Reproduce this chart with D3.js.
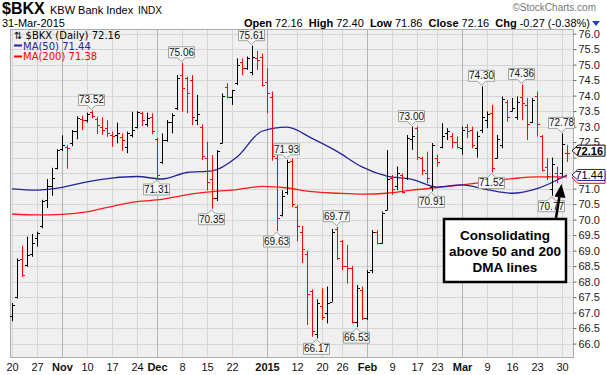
<!DOCTYPE html>
<html>
<head>
<meta charset="utf-8">
<script src="https://cdn.jsdelivr.net/npm/d3@7/dist/d3.min.js"></script>
<style>
  body { margin: 0; background: #fff; }
  svg { display: block; }
</style>
</head>
<body>
<script>
// zilele de tranzactionare (Oct 20, 2014 - Mar 31, 2015)
const dates = [
  "2014-10-20","2014-10-21","2014-10-22","2014-10-23","2014-10-24","2014-10-27","2014-10-28","2014-10-29","2014-10-30","2014-10-31",
  "2014-11-03","2014-11-04","2014-11-05","2014-11-06","2014-11-07","2014-11-10","2014-11-11","2014-11-12","2014-11-13","2014-11-14",
  "2014-11-17","2014-11-18","2014-11-19","2014-11-20","2014-11-21","2014-11-24","2014-11-25","2014-11-26","2014-11-28",
  "2014-12-01","2014-12-02","2014-12-03","2014-12-04","2014-12-05","2014-12-08","2014-12-09","2014-12-10","2014-12-11","2014-12-12",
  "2014-12-15","2014-12-16","2014-12-17","2014-12-18","2014-12-19","2014-12-22","2014-12-23","2014-12-24","2014-12-26",
  "2014-12-29","2014-12-30","2014-12-31",
  "2015-01-02","2015-01-05","2015-01-06","2015-01-07","2015-01-08","2015-01-09","2015-01-12","2015-01-13","2015-01-14","2015-01-15",
  "2015-01-16","2015-01-20","2015-01-21","2015-01-22","2015-01-23","2015-01-26","2015-01-27","2015-01-28","2015-01-29","2015-01-30",
  "2015-02-02","2015-02-03","2015-02-04","2015-02-05","2015-02-06","2015-02-09","2015-02-10","2015-02-11","2015-02-12","2015-02-13",
  "2015-02-17","2015-02-18","2015-02-19","2015-02-20","2015-02-23","2015-02-24","2015-02-25","2015-02-26","2015-02-27",
  "2015-03-02","2015-03-03","2015-03-04","2015-03-05","2015-03-06","2015-03-09","2015-03-10","2015-03-11","2015-03-12","2015-03-13",
  "2015-03-16","2015-03-17","2015-03-18","2015-03-19","2015-03-20","2015-03-23","2015-03-24","2015-03-25","2015-03-26","2015-03-27",
  "2015-03-30","2015-03-31"
];

const opens = [
  66.9, 67.5, 68.73, 68.53, 68.9, 69.4, 69.78, 70.64, 71.08, 71.67,
  72.29, 72.34, 72.48, 72.86, 73.24, 73.22, 73.46, 73.23, 73.0, 72.94,
  72.73, 72.73, 72.67, 72.35, 72.72, 73.0, 73.44, 73.1, 73.3, 72.6,
  71.87, 72.57, 73.16, 73.59, 74.66, 74.56, 74.5, 73.2, 73.0, 72.0,
  71.3, 70.7, 72.48, 74.29, 73.96, 74.4, 75.07, 74.88, 74.77, 75.2,
  75.26, 74.45, 73.95, 72.0, 70.15, 70.9, 71.9, 70.4, 69.6, 68.9,
  67.7, 66.3, 67.2, 66.98, 67.35, 69.7, 69.3, 68.5, 68.43, 66.7,
  67.73, 66.82, 68.37, 69.6, 69.25, 70.31, 71.33, 71.1, 71.44, 71.33,
  72.6, 72.94, 71.98, 71.5, 71.05, 72.0, 72.35, 72.8, 72.7, 72.5,
  72.3, 73.0, 72.9, 72.3, 72.9, 73.2, 73.45, 71.98, 72.4, 73.8,
  73.5, 73.3, 73.95, 73.7, 73.15, 74.0, 72.7, 71.7, 71.0, 71.5,
  71.5, 72.16
];
const highs = [
  67.31, 68.75, 69.16, 69.45, 69.54, 69.61, 70.64, 71.31, 71.67, 72.27,
  72.72, 72.4, 72.89, 73.33, 73.35, 73.45, 73.52, 73.32, 73.3, 73.21,
  72.84, 73.13, 72.78, 72.84, 73.48, 73.5, 73.48, 73.45, 73.43, 72.64,
  72.78, 73.21, 73.43, 74.66, 75.06, 74.61, 74.66, 74.02, 73.07, 72.51,
  72.08, 72.24, 74.07, 74.4, 74.18, 75.2, 75.2, 75.26, 75.61, 75.44,
  75.36, 74.88, 74.13, 72.08, 70.95, 71.93, 71.97, 70.47, 69.8, 69.0,
  67.75, 67.43, 67.78, 67.84, 69.7, 69.77, 69.34, 69.18, 68.5, 67.89,
  67.84, 68.37, 69.66, 69.66, 70.26, 72.24, 71.44, 71.71, 71.49, 72.73,
  73.0, 73.0, 72.03, 72.19, 72.47, 72.09, 73.11, 72.95, 72.79, 72.68,
  73.0, 73.08, 73.0, 72.84, 74.3, 73.49, 73.7, 72.73, 73.97, 73.86,
  73.92, 73.97, 74.36, 73.92, 73.92, 74.13, 72.73, 71.98, 72.0, 71.7,
  72.78, 72.4
];
const lows = [
  66.72, 67.45, 68.15, 68.48, 68.8, 69.13, 69.72, 70.37, 70.77, 71.62,
  72.21, 71.64, 72.37, 72.59, 72.89, 73.13, 73.26, 72.76, 72.73, 72.67,
  72.35, 72.46, 72.22, 72.14, 72.65, 72.94, 73.02, 73.0, 72.75, 71.31,
  71.8, 72.51, 72.78, 73.53, 73.48, 73.43, 73.05, 73.05, 71.92, 70.95,
  70.35, 70.6, 72.46, 73.91, 73.7, 74.34, 74.66, 74.83, 74.66, 74.83,
  74.29, 73.43, 71.9, 69.63, 70.1, 70.8, 70.4, 69.3, 68.6, 66.6,
  66.22, 66.17, 66.76, 66.65, 67.35, 68.7, 68.37, 67.94, 66.65, 66.53,
  66.76, 66.76, 68.27, 69.2, 69.23, 70.31, 70.8, 70.95, 70.85, 71.28,
  72.25, 71.92, 71.44, 71.17, 70.91, 71.71, 72.3, 72.57, 72.3, 72.3,
  72.09, 72.63, 72.3, 72.0, 72.79, 72.95, 71.52, 71.98, 72.3, 73.16,
  73.49, 73.22, 73.2, 72.57, 73.11, 72.68, 71.55, 71.28, 70.77, 71.17,
  71.4, 71.86
];
const closes = [
  67.23, 68.7, 68.21, 68.86, 69.24, 69.58, 70.59, 71.08, 71.35, 72.24,
  72.4, 72.3, 72.86, 73.29, 73.22, 73.4, 73.33, 73.05, 72.9, 72.78,
  72.7, 72.8, 72.58, 72.78, 72.9, 73.48, 73.22, 73.27, 72.85, 71.45,
  72.57, 73.16, 73.37, 74.58, 74.23, 74.1, 73.3, 73.4, 72.05, 71.2,
  70.7, 72.2, 74.0, 73.95, 74.18, 74.99, 74.88, 75.2, 75.26, 75.15,
  74.34, 74.07, 72.05, 70.05, 70.75, 71.85, 70.5, 69.8, 69.05, 67.6,
  66.4, 67.3, 66.87, 67.3, 69.6, 68.75, 68.5, 68.45, 66.7, 67.78,
  66.82, 68.32, 69.61, 69.25, 70.2, 71.3, 71.0, 71.49, 70.9, 72.62,
  72.7, 72.03, 71.6, 71.35, 72.4, 71.85, 72.7, 72.85, 72.5, 72.35,
  72.9, 72.85, 72.4, 72.7, 73.3, 73.4, 71.65, 72.6, 73.9, 73.3,
  73.6, 73.8, 73.75, 73.1, 73.85, 73.1, 71.6, 71.4, 71.8, 71.35,
  72.43, 72.16
];

// mediile mobile (index zi -> valoare)
const maIdx = [0, 5, 10, 15, 20, 25, 30, 35, 40, 45, 50, 55, 60, 65, 70, 75, 80, 85, 90, 95, 100, 105, 111];
const ma50 = [70.99, 70.95, 71.04, 71.22, 71.34, 71.39, 71.31, 71.52, 71.57, 72.02, 72.85, 72.98,
  72.62, 72.2, 71.7, 71.4, 71.3, 71.05, 71.12, 70.97, 70.85, 71.0, 71.44];
const ma200 = [70.18, 70.15, 70.17, 70.25, 70.43, 70.58, 70.65, 70.8, 70.9, 70.97, 71.07, 71.02,
  70.9, 70.85, 70.82, 70.85, 70.95, 71.03, 71.12, 71.22, 71.32, 71.38, 71.38];

// etichetele axei X
const tickDates = ["2014-10-20","2014-10-27","2014-11-03","2014-11-10","2014-11-17","2014-11-24","2014-12-01",
  "2014-12-08","2014-12-15","2014-12-22","2015-01-02","2015-01-12","2015-01-20","2015-01-26","2015-02-02",
  "2015-02-09","2015-02-17","2015-02-23","2015-03-02","2015-03-09","2015-03-16","2015-03-23","2015-03-30"];
const tickLabels = ["20","27","Nov","10","17","24","Dec","8","15","22","2015","12","20","26","Feb",
  "9","17","23","Mar","9","16","23","30"];
const monthTicks = ["Nov","Dec","2015","Feb","Mar"];

// etichetele de maxim / minim
const calloutIdx = [16, 29, 34, 40, 48, 53, 55, 61, 65, 69, 80, 84, 94, 96, 102, 108, 110];
const calloutVal = [73.52, 71.31, 75.06, 70.35, 75.61, 69.63, 71.93, 66.17, 69.77, 66.53, 73.00, 70.91, 74.30, 71.52, 74.36, 70.77, 72.78];
const calloutSide = ["hi","lo","hi","lo","hi","lo","hi","lo","hi","lo","hi","lo","hi","lo","hi","lo","hi"];

const W = 607, H = 375;
const plotLeft = 10, plotRight = 573, plotTop = 29, plotBottom = 357;
const font = "'Liberation Sans', Arial, sans-serif";

const svg = d3.select("body")
  .append("svg")
  .attr("width", W)
  .attr("height", H)
  .style("font-family", font);

const x = d3.scalePoint().domain(dates).range([12, 567]);
const y = d3.scaleLinear().domain([66, 76]).range([343.6, 33.6]);

// fundalul zonei de grafic
svg.append("rect")
  .attr("x", plotLeft + 0.5).attr("y", plotTop + 0.5)
  .attr("width", plotRight - plotLeft).attr("height", plotBottom - plotTop)
  .attr("fill", "#f0f0f0")
  .attr("stroke", "#a8aeb0");

// grila orizontala
const yTicks = d3.range(66, 76.01, 0.5);
svg.append("g").selectAll("line").data(yTicks).join("line")
  .attr("x1", plotLeft + 1).attr("x2", plotRight)
  .attr("y1", d => Math.round(y(d)) + 0.5).attr("y2", d => Math.round(y(d)) + 0.5)
  .attr("stroke", "#d6d6d6");

// grila verticala
svg.append("g").selectAll("line").data(tickDates).join("line")
  .attr("x1", d => x(d) + 0.5).attr("x2", d => x(d) + 0.5)
  .attr("y1", plotTop + 1).attr("y2", plotBottom)
  .attr("stroke", (d, i) => monthTicks.includes(tickLabels[i]) ? "#b4b4b4" : "#d6d6d6");

// axa Y din dreapta
const yAxis = svg.append("g")
  .attr("transform", `translate(${plotRight + 0.5},0)`)
  .call(d3.axisRight(y).tickValues(yTicks).tickFormat(d3.format(".1f")).tickSize(3).tickPadding(2));
yAxis.select(".domain").remove();
yAxis.selectAll("line").attr("stroke", "#666");
yAxis.selectAll("text").attr("font-family", font).attr("font-size", 11).attr("fill", "#222");

// axa X
const xAxis = svg.append("g")
  .attr("transform", `translate(0,${plotBottom})`)
  .call(d3.axisBottom(x).tickValues(tickDates).tickFormat((d, i) => tickLabels[i]).tickSize(0).tickPadding(6));
xAxis.select(".domain").remove();
xAxis.selectAll("text")
  .attr("font-family", font)
  .attr("font-size", 11)
  .attr("fill", "#111")
  .attr("font-weight", d => monthTicks.includes(tickLabels[tickDates.indexOf(d)]) ? "bold" : "normal");

// mediile mobile
const maLine = vals => d3.line()
  .x((d, i) => x(dates[maIdx[i]]))
  .y(d => y(d))
  .curve(d3.curveMonotoneX)(vals);

svg.append("path").attr("d", maLine(ma200))
  .attr("fill", "none").attr("stroke", "#ff1a1a").attr("stroke-width", 1.3);
svg.append("path").attr("d", maLine(ma50))
  .attr("fill", "none").attr("stroke", "#24249a").attr("stroke-width", 1.3);

// barele OHLC
const bars = svg.append("g");
dates.forEach((d, i) => {
  const cx = x(d) + 0.5;
  const col = (i > 0 && closes[i] < closes[i - 1]) ? "#ff0000" : "#000000";
  bars.append("line")
    .attr("x1", cx).attr("x2", cx)
    .attr("y1", y(highs[i])).attr("y2", y(lows[i]))
    .attr("stroke", col);
  bars.append("line")
    .attr("x1", cx - 2.5).attr("x2", cx)
    .attr("y1", Math.round(y(opens[i])) + 0.5).attr("y2", Math.round(y(opens[i])) + 0.5)
    .attr("stroke", col);
  bars.append("line")
    .attr("x1", cx).attr("x2", cx + 2.5)
    .attr("y1", Math.round(y(closes[i])) + 0.5).attr("y2", Math.round(y(closes[i])) + 0.5)
    .attr("stroke", col);
});

// etichete maxim/minim
const callouts = svg.append("g");
calloutIdx.forEach((idx, k) => {
  const cx = x(dates[idx]) - 0.5;
  const hi = calloutSide[k] === "hi";
  const tip = hi ? y(calloutVal[k]) - 1 : y(calloutVal[k]) + 1;
  const bw = 26, bh = 11, p = 4;
  const by = hi ? tip - p - bh : tip + p;
  const x0 = cx - bw / 2, x1 = cx + bw / 2;
  let path;
  if (hi) {
    path = `M${x0},${by}H${x1}V${by + bh}H${cx + 4}L${cx},${tip}L${cx - 4},${by + bh}H${x0}Z`;
  } else {
    path = `M${x0},${by}H${cx - 4}L${cx},${tip}L${cx + 4},${by}H${x1}V${by + bh}H${x0}Z`;
  }
  callouts.append("path").attr("d", path)
    .attr("fill", "#f7f7f7").attr("stroke", "#9aa59a").attr("stroke-width", 1);
  callouts.append("text")
    .attr("x", cx).attr("y", by + bh - 2)
    .attr("text-anchor", "middle")
    .attr("font-size", 10)
    .attr("fill", "#111")
    .text(calloutVal[k].toFixed(2));
});

// casetele de pret din dreapta (acopera etichetele axei de sub ele)
function priceBox(val, text, stroke, bold, dy) {
  const yc = y(val) + dy;
  const x0 = plotRight - 1, x1 = 605;
  svg.append("path")
    .attr("d", `M${x0},${yc}L${x0 + 6},${yc - 5.5}H${x1}V${yc + 5.5}H${x0 + 6}Z`)
    .attr("fill", "#fff").attr("stroke", stroke).attr("stroke-width", 1);
  yAxis.selectAll(".tick").filter(d => Math.abs(y(d) - yc) < 8).select("text").attr("opacity", 0);
  if (text) {
    svg.append("text")
      .attr("x", x1 - 2).attr("y", yc + 4)
      .attr("text-anchor", "end")
      .attr("font-size", 11)
      .attr("font-weight", bold ? "bold" : "normal")
      .attr("fill", "#000")
      .text(text);
  }
}
priceBox(ma200[ma200.length - 1], "", "#ff0000", false, 1);
priceBox(ma50[ma50.length - 1], "71.44", "#24249a", false, 0);
priceBox(closes[closes.length - 1], "72.16", "#000", true, -2);

// legenda
const legend = svg.append("g").attr("font-family", "'DejaVu Sans', Verdana, sans-serif").attr("font-size", 10);
legend.append("text").attr("x", 14).attr("y", 39).attr("fill", "#000").text("\u21C5 $BKX (Daily) 72.16");
legend.append("line").attr("x1", 14).attr("x2", 22).attr("y1", 45.5).attr("y2", 45.5).attr("stroke", "#24249a").attr("stroke-width", 2);
legend.append("text").attr("x", 23).attr("y", 49.5).attr("fill", "#24249a").text("MA(50) 71.44");
legend.append("line").attr("x1", 14).attr("x2", 22).attr("y1", 56.5).attr("y2", 56.5).attr("stroke", "#ff0000").attr("stroke-width", 2);
legend.append("text").attr("x", 23).attr("y", 60).attr("fill", "#ff0000").text("MA(200) 71.38");

// antet
svg.append("text").attr("x", 2).attr("y", 14)
  .attr("font-size", 16).attr("font-weight", "bold").text("$BKX");
svg.append("text").attr("x", 50).attr("y", 14)
  .attr("font-size", 11).text("KBW Bank Index");
svg.append("text").attr("x", 138).attr("y", 14)
  .attr("font-size", 10).text("INDX");
svg.append("text").attr("x", 596).attr("y", 11)
  .attr("text-anchor", "end").attr("font-size", 10).attr("fill", "#777").text("\u00A9StockCharts.com");
svg.append("text").attr("x", 2).attr("y", 27)
  .attr("font-size", 11).text("31-Mar-2015");

const quote = svg.append("text").attr("x", 590).attr("y", 27)
  .attr("text-anchor", "end").attr("font-size", 11).attr("xml:space", "preserve");
[["Open ", true], ["72.16  ", false], ["High ", true], ["72.40  ", false], ["Low ", true], ["71.86  ", false],
 ["Close ", true], ["72.16  ", false], ["Chg ", true], ["-0.27 (-0.38%)", false]].forEach(([t, b]) => {
  quote.append("tspan").attr("font-weight", b ? "bold" : "normal").text(t);
});
svg.append("path").attr("d", "M592,21H600L596,26Z").attr("fill", "#1f3fd0");

// caseta de adnotare si sageata
const note = svg.append("g");
note.append("rect")
  .attr("x", 444).attr("y", 219).attr("width", 122).attr("height", 63)
  .attr("fill", "#fff").attr("stroke", "#000").attr("stroke-width", 2.5);
["Consolidating", "above 50 and 200", "DMA lines"].forEach((t, i) => {
  note.append("text")
    .attr("x", 505).attr("y", 240 + i * 16)
    .attr("text-anchor", "middle")
    .attr("font-size", 13.5).attr("font-weight", "bold")
    .text(t);
});
note.append("line")
  .attr("x1", 556).attr("y1", 218).attr("x2", 559.5).attr("y2", 196)
  .attr("stroke", "#000").attr("stroke-width", 2.5);
note.append("path")
  .attr("d", "M561.5,184L565.5,198L554.5,196.5Z")
  .attr("fill", "#000");
</script>
</body>
</html>
